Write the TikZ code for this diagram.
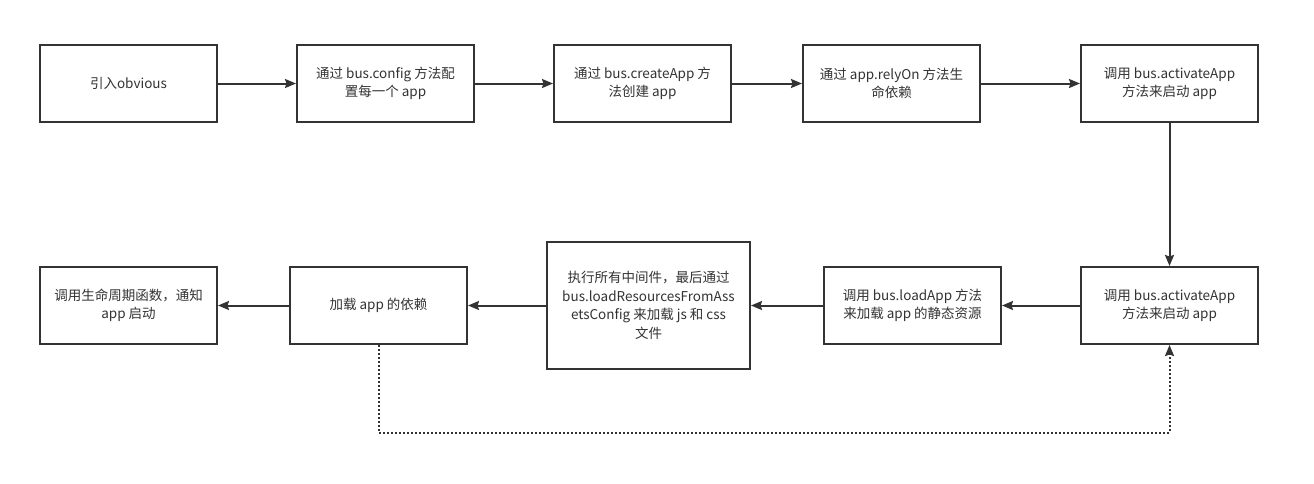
\documentclass[tikz,border=0pt]{standalone}
\usepackage{fontspec}
\setmainfont{Noto Sans CJK SC}
\usetikzlibrary{arrows.meta}
\definecolor{ink}{HTML}{333333}
\tikzset{
  box/.style={draw=ink, line width=2pt, fill=white, text=ink, align=center,
    minimum width=177pt, minimum height=77pt, inner sep=2pt,
    font=\fontsize{13.5}{18.5}\selectfont},
  flow/.style={draw=ink, line width=2pt, -{Stealth[length=11pt,width=9pt,inset=1.5pt]}},
  back/.style={draw=ink, line width=2pt, dash pattern=on 2pt off 2pt,
    -{Stealth[length=11pt,width=9pt,inset=1.5pt]}}
}
\begin{document}
\begin{tikzpicture}[x=1pt,y=-1pt]
\useasboundingbox (0,0) rectangle (1314,483);
\node[box] (a1) at (128.5,83.5) {引入obvious};
\node[box] (a2) at (385.5,83.5) {通过 bus.config 方法配\\置每一个 app};
\node[box] (a3) at (642.5,83.5) {通过 bus.createApp 方\\法创建 app};
\node[box] (a4) at (891.5,83.5) {通过 app.relyOn 方法生\\命依赖};
\node[box] (a5) at (1169.5,83.5) {调用 bus.activateApp\\方法来启动 app};
\node[box] (b5) at (1169.5,305.5) {调用 bus.activateApp\\方法来启动 app};
\node[box] (b4) at (912.5,305.5) {调用 bus.loadApp 方法\\来加载 app 的静态资源};
\node[box, minimum width=203pt, minimum height=127pt] (b3) at (648.5,305.5)
  {执行所有中间件，最后通过\\bus.loadResourcesFromAss\\etsConfig 来加载 js 和 css\\文件};
\node[box] (b2) at (378.5,305.5) {加载 app 的依赖};
\node[box] (b1) at (128.5,305.5) {调用生命周期函数，通知\\app 启动};
\coordinate (dl) at (0,432.5);
\draw[flow] (a1) -- (a2);
\draw[flow] (a2) -- (a3);
\draw[flow] (a3) -- (a4);
\draw[flow] (a4) -- (a5);
\draw[flow] (a5) -- (b5);
\draw[flow] (b5) -- (b4);
\draw[flow] (b4) -- (b3);
\draw[flow] (b3) -- (b2);
\draw[flow] (b2) -- (b1);
\draw[back] (b2.south) -- (b2.south |- dl) -| (b5.south);
\end{tikzpicture}
\end{document}
